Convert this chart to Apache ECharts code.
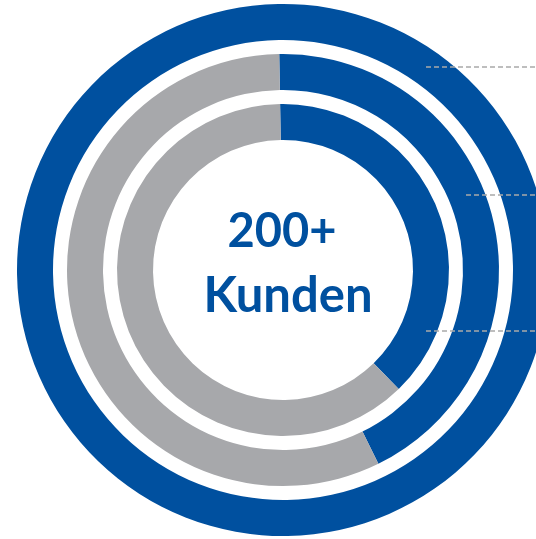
<!DOCTYPE html>
<html>
<head>
	<meta charset="utf-8">
	<title>kunden</title>
	<script src="https://cdn.jsdelivr.net/npm/echarts@6/dist/echarts.min.js"></script>
	<style>html,body{margin:0;padding:0;background:#fff;}</style>
</head>
<body>
	<div id="main" style="height: 539px; width: 536px;"></div>
	<script type="text/javascript">
		// drei Ringe, aussen nach innen
		var ringNames = ['Aussen', 'Mitte', 'Innen'];
		var blueValues = [100, 43, 38];
		var greyValues = [0, 57, 62];
		var centerText = ['200+', 'Kunden'];

		var BLUE = '#00509F';
		var GREY = '#A7A8AB';
		var radii = [[230, 266], [180, 216], [130, 166]];

		var myChart = echarts.init(document.getElementById('main'));

		var series = ringNames.map(function (name, i) {
			return {
				name: name,
				type: 'pie',
				center: [283, 270],
				radius: radii[i],
				startAngle: 91,
				silent: true,
				label: {show: false},
				labelLine: {show: false},
				emphasis: {disabled: true},
				data: [
					{name: 'ja', value: blueValues[i], itemStyle: {color: BLUE}},
					{name: 'nein', value: greyValues[i], itemStyle: {color: GREY}}
				]
			};
		});

		var dash = {stroke: '#A9A9A9', lineWidth: 1.3, lineDash: [5, 3]};
		var option = {
			animation: false,
			series: series,
			graphic: [
				{type: 'line', z: 10, shape: {x1: 426, y1: 67, x2: 536, y2: 67}, style: dash},
				{type: 'line', z: 10, shape: {x1: 466, y1: 195, x2: 536, y2: 195}, style: dash},
				{type: 'line', z: 10, shape: {x1: 426, y1: 331, x2: 536, y2: 331}, style: dash},
				{type: 'text', x: 282, y: 232, z: 10, style: {
					text: centerText[0], fill: BLUE, font: 'bold 47px Lato',
					align: 'center', verticalAlign: 'middle'}},
				{type: 'text', x: 288, y: 296, z: 10, style: {
					text: centerText[1], fill: BLUE, font: 'bold 49px Lato',
					align: 'center', verticalAlign: 'middle'}}
			]
		};
		myChart.setOption(option);
	</script>
</body>
</html>
